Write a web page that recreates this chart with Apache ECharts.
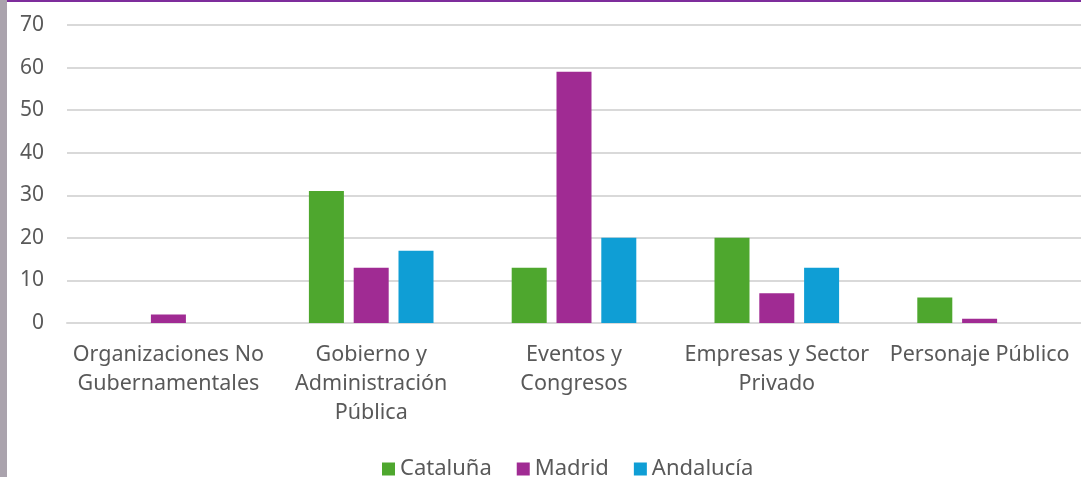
<!DOCTYPE html>
<html>
<head>
<meta charset="utf-8">
<script src="https://cdn.jsdelivr.net/npm/echarts@6/dist/echarts.min.js"></script>
<style>
html,body{margin:0;padding:0;background:#fff;}
#c{width:1081px;height:477px;}
</style>
</head>
<body>
<div id="c"></div>
<script>
var categories = ["Organizaciones No\nGubernamentales", "Gobierno y\nAdministración\nPública", "Eventos y\nCongresos", "Empresas y Sector\nPrivado", "Personaje Público"];
var cataluna = [0, 31, 13, 20, 6];
var madrid = [2, 13, 59, 7, 1];
var andalucia = [0, 17, 20, 13, 0];
var seriesNames = ["Cataluña", "Madrid", "Andalucía"];

var chart = echarts.init(document.getElementById('c'));
var font = 'Noto Sans';
function bar(name, data, color) {
  return {
    name: name, type: 'bar', data: data,
    barWidth: 35, barGap: '28%',
    itemStyle: {color: color}
  };
}
chart.setOption({
  animation: false,
  textStyle: {fontFamily: font},
  graphic: [
    {type: 'rect', shape: {x: 0, y: 0, width: 7, height: 477}, style: {fill: '#aaa3ad'}},
    {type: 'rect', shape: {x: 7, y: 0, width: 1074, height: 2}, style: {fill: '#7e2d9c'}}
  ],
  grid: {left: 67, top: 25, width: 1028, height: 298, containLabel: false},
  legend: {
    data: seriesNames,
    top: 453, left: 377,
    itemWidth: 13, itemHeight: 13, itemGap: 25, icon: 'rect',
    textStyle: {color: '#595959', fontSize: 22, fontFamily: font, padding: [0, 0, 0, 0]}
  },
  xAxis: {
    type: 'category', data: categories,
    axisLine: {lineStyle: {color: '#d9d9d9', width: 2}},
    axisTick: {show: false},
    axisLabel: {color: '#595959', fontSize: 21.5, lineHeight: 29, margin: 17, interval: 0, fontFamily: font}
  },
  yAxis: {
    type: 'value', min: 0, max: 70, interval: 10,
    axisLine: {show: false}, axisTick: {show: false},
    splitLine: {lineStyle: {color: '#d9d9d9', width: 2}},
    axisLabel: {color: '#595959', fontSize: 21, margin: 23, fontFamily: font}
  },
  series: [
    bar(seriesNames[0], cataluna, '#4ea72e'),
    bar(seriesNames[1], madrid, '#a02b93'),
    bar(seriesNames[2], andalucia, '#0f9ed5')
  ]
});
</script>
</body>
</html>
